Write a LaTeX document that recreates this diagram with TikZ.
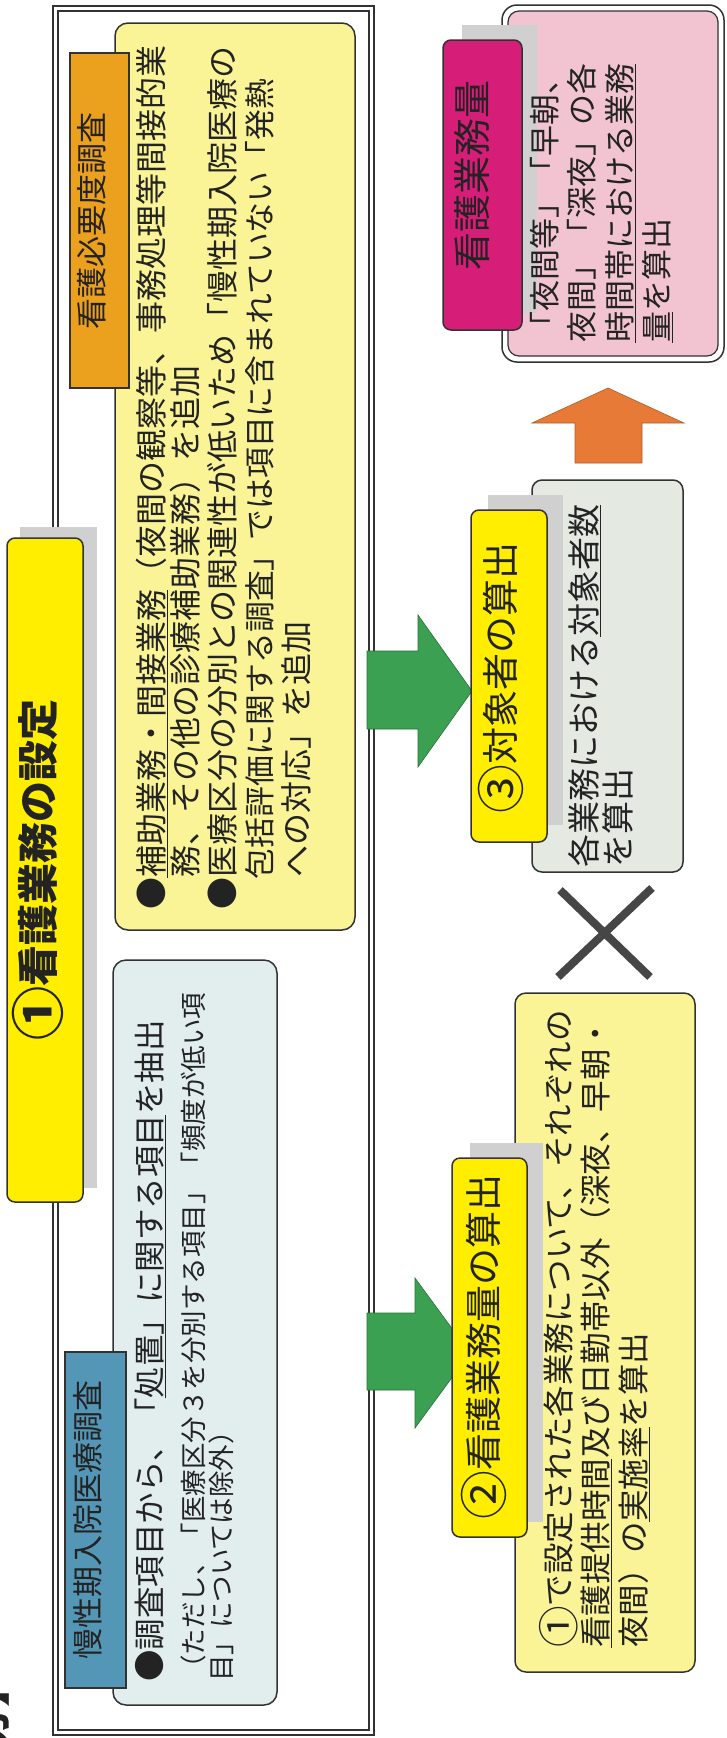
\documentclass[tikz,border=0pt]{standalone}
\usepackage{fontspec}
\setmainfont{Noto Sans CJK JP}
\definecolor{ink}{RGB}{35,35,35}
\definecolor{edge}{RGB}{50,50,50}
\definecolor{paleyellow}{RGB}{250,244,150}
\definecolor{tabyellow}{RGB}{255,238,0}
\definecolor{paleblue}{RGB}{226,238,238}
\definecolor{steelblue}{RGB}{84,150,182}
\definecolor{tabor}{RGB}{235,160,30}
\definecolor{arrowgreen}{RGB}{60,160,82}
\definecolor{arroworange}{RGB}{232,122,56}
\definecolor{palepink}{RGB}{242,196,210}
\definecolor{tabmag}{RGB}{214,30,120}
\definecolor{palegray}{RGB}{228,234,226}
\definecolor{shadowgray}{RGB}{208,208,208}
\definecolor{crossgray}{RGB}{70,70,70}
\newcommand\fsz[1]{\fontsize{#1}{#1}\selectfont}
\newcommand\myul[1]{\setbox0\hbox{#1}\rlap{\rule[-0.14em]{\wd0}{1.6pt}}\box0}
\newcommand\cnum[1]{\raisebox{-0.12em}{\scalebox{1.32}{#1}}}
\begin{document}
\begin{tikzpicture}[x=1pt,y=1pt,
  panel/.style={draw=edge,line width=1.5pt,rounded corners=13pt,inner sep=0pt},
  tab/.style={draw=edge,line width=1.5pt,inner sep=0pt},
  rtab/.style={draw=edge,line width=1.5pt,rounded corners=8pt,inner sep=0pt},
  shade/.style={fill=shadowgray,draw=none,inner sep=0pt},
  txt/.style={rotate=90,inner sep=0pt,anchor=west,text=ink,text height=0.88em,text depth=0.12em},
  ctxt/.style={txt,anchor=center}]
\useasboundingbox (0,0) rectangle (726,-1738);
\clip (0,0) rectangle (726,-1738);
\fill[white] (0,0) rectangle (726,-1738);

% outer double frame
\node[draw=edge,line width=2.2pt,minimum width=321pt,minimum height=1729pt,inner sep=0pt] (frameout) at (213.5,-870.5) {};
\node[draw=edge,line width=1.1pt,minimum width=311pt,minimum height=1719pt,inner sep=0pt] (framein) at (213.5,-870.5) {};

% nursing necessity survey box
\node[panel,fill=paleyellow,minimum width=240pt,minimum height=907pt] (needbox) at (235,-476.5) {};
\node[tab,fill=tabor,minimum width=59pt,minimum height=335pt] (needtab) at (99.5,-220.5) {};
\node[ctxt,font=\fsz{31}] (needtabt) at (needtab.center) {看護必要度調査};

% chronic survey box
\node[panel,fill=paleblue,minimum width=164pt,minimum height=745pt] (chronbox) at (195,-1332.5) {};
\node[tab,fill=steelblue,minimum width=61pt,minimum height=336pt] (chrontab) at (95.5,-1520) {};
\node[ctxt,font=\fsz{31}] (chrontabt) at (chrontab.center) {慢性期入院医療調査};

% title
\node[shade,minimum width=77pt,minimum height=661pt] (titleshadow) at (58.5,-857.5) {};
\node[rtab,fill=tabyellow,minimum width=76pt,minimum height=664pt] (title) at (45,-870) {};
\node[ctxt,font=\fsz{41}\bfseries] (titlet) at (50,-870) {\cnum{①}看護業務の設定};

% green arrows
\coordinate (g1) at (367,-1352);
\coordinate (g2) at (367,-690);
\fill[arrowgreen,draw=arrowgreen!70!black,line width=0.6pt] (367,-1313) -- (415,-1313) -- (415,-1278) -- (470,-1353) -- (415,-1428) -- (415,-1390) -- (367,-1390) -- cycle;
\fill[arrowgreen,draw=arrowgreen!70!black,line width=0.6pt] (367,-651) -- (418,-651) -- (418,-615) -- (472,-691) -- (418,-767) -- (418,-729) -- (367,-729) -- cycle;

% box 2
\node[panel,fill=paleyellow,minimum width=180pt,minimum height=679pt,rounded corners=11pt] (box2) at (605,-1332.5) {};
\node[shade,minimum width=73pt,minimum height=379pt] (box2shadow) at (506.5,-1332.5) {};
\node[rtab,fill=tabyellow,minimum width=75pt,minimum height=379pt] (tab2) at (489.5,-1347.5) {};
\node[ctxt,font=\fsz{37}] (tab2t) at (494,-1347) {\cnum{②}看護業務量の算出};

% box 3
\node[panel,fill=palegray,minimum width=151pt,minimum height=392pt,rounded corners=10pt] (box3) at (607.5,-676) {};
\node[shade,minimum width=75pt,minimum height=330pt] (box3shadow) at (525.5,-660) {};
\node[rtab,fill=tabyellow,minimum width=76pt,minimum height=332pt] (tab3) at (509,-676) {};
\node[ctxt,font=\fsz{37}] (tab3t) at (511,-678) {\cnum{③}対象者の算出};

% cross
\coordinate (xa) at (560,-890);
\coordinate (xb) at (650,-977);
\coordinate (xc) at (652,-888);
\coordinate (xd) at (558,-977);
\draw[crossgray,line width=8pt] (xa) -- (xb);
\draw[crossgray,line width=8pt] (xc) -- (xd);

% orange arrow
\fill[arroworange,draw=arroworange!75!black,line width=0.6pt] (575,-463) -- (575,-423) -- (532,-423) -- (608,-388) -- (684,-423) -- (642,-423) -- (642,-463) -- cycle;

% result box (pink, double border)
\node[draw=edge,line width=1.5pt,fill=white,rounded corners=15pt,minimum width=222pt,minimum height=357pt,inner sep=0pt] (pinkout) at (613,-183.5) {};
\node[draw=edge,line width=1.2pt,fill=palepink,rounded corners=11pt,minimum width=210pt,minimum height=345pt,inner sep=0pt] (pinkin) at (613,-183.5) {};
\node[shade,minimum width=75pt,minimum height=288pt] (magshadow) at (499.5,-169) {};
\node[rtab,fill=tabmag,minimum width=79pt,minimum height=290pt] (magtab) at (482.5,-185) {};
\node[ctxt,font=\fsz{38}] (magtabt) at (483,-175) {看護業務量};

% texts: necessity survey
\node[txt,font=\fsz{32}] (n1) at (160,-910) {●\myul{補助業務・間接業務}（夜間の観察等、事務処理等間接的業};
\node[txt,font=\fsz{32}] (n2) at (194,-910) {　務、その他の診療補助業務）を追加};
\node[txt,font=\fsz{32}] (n3) at (231,-910) {●医療区分の分別との関連性が低いため「慢性期入院医療の};
\node[txt,font=\fsz{30.8}] (n4) at (268,-910) {　包括評価に関する調査」では項目に含まれていない「発熱};
\node[txt,font=\fsz{32}] (n5) at (305,-910) {　への対応」を追加};

% texts: chronic survey
\node[txt,font=\fsz{31.5}] (c1) at (158,-1682) {●調査項目から、「\myul{処置」に関する項目}を抽出};
\node[txt,font=\fsz{26.5}] (c2) at (200,-1682) {（ただし、「医療区分３を分別する項目」「頻度が低い項};
\node[txt,font=\fsz{26.5}] (c3) at (228,-1682) {目」については除外）};

% texts: box 2
\node[txt,font=\fsz{31.5}] (b1) at (567,-1648) {\cnum{①}で設定された各業務について、それぞれの};
\node[txt,font=\fsz{31.5}] (b2) at (604,-1648) {\myul{看護提供時間}及び日勤帯以外（深夜、早朝・};
\node[txt,font=\fsz{31.5}] (b3) at (642,-1648) {夜間）の\myul{実施率}を算出};

% texts: box 3
\node[txt,font=\fsz{33}] (t1) at (593,-868) {各業務における\myul{対象者数}};
\node[txt,font=\fsz{33}] (t2) at (627,-868) {を算出};

% texts: pink box
\node[txt,font=\fsz{31}] (p1) at (553,-343) {「夜間等」「早朝、};
\node[txt,font=\fsz{31}] (p2) at (590,-343) {夜間」「深夜」の各};
\node[txt,font=\fsz{31}] (p3) at (628,-343) {\myul{時間帯における業務}};
\node[txt,font=\fsz{31}] (p4) at (665,-343) {\myul{量}を算出};

% cut-off heading fragment
\node[txt,font=\fsz{40}\bfseries] (cut) at (2,-1748) {方】};
\end{tikzpicture}
\end{document}
